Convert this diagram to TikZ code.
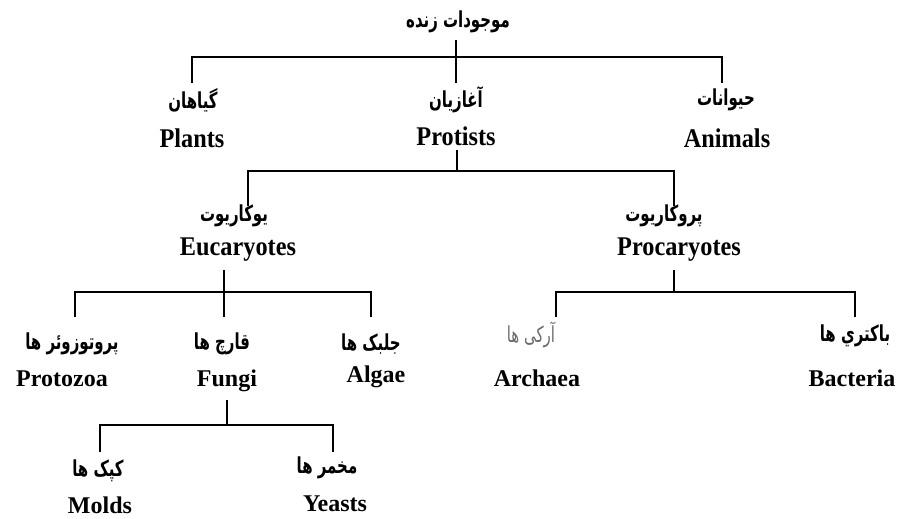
\documentclass[tikz,border=0pt]{standalone}
\usepackage{fontspec}
\TeXXeTstate=1
\newfontfamily\fa[Script=Arabic,FakeStretch=0.68]{DejaVu Sans}
\newfontfamily\enc[FakeStretch=0.9]{Liberation Serif}
\newfontfamily\enn{Liberation Serif}
\definecolor{archgray}{HTML}{6A6A6A}
\begin{document}
\begin{tikzpicture}[x=1pt,y=-1pt,
  fa/.style={font=\fa\bfseries\fontsize{22}{22}\selectfont, inner sep=0pt, anchor=center},
  faL/.style={font=\fa\fontsize{22}{22}\selectfont, inner sep=0pt, text=archgray},
  enA/.style={font=\enc\bfseries\fontsize{27}{27}\selectfont, inner sep=0pt},
  enB/.style={font=\enn\bfseries\fontsize{24}{24}\selectfont, inner sep=0pt},
  link/.style={line width=1.6pt, black}]
\useasboundingbox (0,0) rectangle (898,519);
% row 1
\node[fa] (root) at (458,22) {\beginR موجودات زنده\endR};
% row 2
\node[fa] (plantsfa) at (193,100) {\beginR گیاهان\endR};
\node[enA] (plants) at (192,138) {Plants};
\node[fa] (protfa) at (456,100) {\beginR آغازیان\endR};
\node[enA] (prot) at (456,136) {Protists};
\node[fa] (animfa) at (726,100) {\beginR حیوانات\endR};
\node[enA] (anim) at (727,138) {Animals};
% row 3
\node[fa] (eucfa) at (234,216) {\beginR یوکاریوت\endR};
\node[enA] (euc) at (238,250) {Eucaryotes};
\node[fa] (profa) at (664,216) {\beginR پروکاریوت\endR};
\node[enA] (pro) at (679,250) {Procaryotes};
% row 4
\node[fa] (protozfa) at (72,344) {\beginR پروتوزوئر ها\endR};
\node[enB] (protoz) at (62,379) {Protozoa};
\node[fa] (fungfa) at (222,344) {\beginR قارچ ها\endR};
\node[enB] (fung) at (227,381) {Fungi};
\node[fa] (algfa) at (371,344) {\beginR جلبک ها\endR};
\node[enB] (alg) at (376,377) {Algae};
\node[faL] (archfa) at (531,335) {\beginR آرکی ها\endR};
\node[enB] (arch) at (537,378) {Archaea};
\node[fa] (bactfa) at (855,336) {\beginR باکتري ها\endR};
\node[enB] (bact) at (852,378) {Bacteria};
% row 5
\node[fa] (moldfa) at (98,471) {\beginR کپک ها\endR};
\node[enB] (mold) at (100,505) {Molds};
\node[fa] (yeastfa) at (327,468) {\beginR مخمر ها\endR};
\node[enB] (yeast) at (335,504) {Yeasts};
% junction coordinates
\coordinate (r0) at (456,40);
\coordinate (r1) at (456,57);
\coordinate (rL) at (192,57);
\coordinate (rR) at (722,57);
\coordinate (rLd) at (192,83);
\coordinate (rMd) at (456,83);
\coordinate (rRd) at (722,83);
\coordinate (p0) at (457,150);
\coordinate (p1) at (457,171);
\coordinate (pL) at (248,171);
\coordinate (pR) at (674,171);
\coordinate (pLd) at (248,206);
\coordinate (pRd) at (674,206);
\coordinate (e0) at (224,270);
\coordinate (e1) at (224,292);
\coordinate (eL) at (75,292);
\coordinate (eR) at (371,292);
\coordinate (eLd) at (75,317);
\coordinate (eMd) at (224,317);
\coordinate (eRd) at (371,317);
\coordinate (k0) at (674,270);
\coordinate (k1) at (674,292);
\coordinate (kL) at (556,292);
\coordinate (kR) at (855,292);
\coordinate (kLd) at (556,317);
\coordinate (kRd) at (855,317);
\coordinate (f0) at (227,400);
\coordinate (f1) at (227,425);
\coordinate (fL) at (100,425);
\coordinate (fR) at (333,425);
\coordinate (fLd) at (100,452);
\coordinate (fRd) at (333,452);
% connectors
\draw[link] (r0) -- (rMd);
\draw[link] (rLd) -- (rL) -- (rR) -- (rRd);
\draw[link] (p0) -- (p1);
\draw[link] (pLd) -- (pL) -- (pR) -- (pRd);
\draw[link] (e0) -- (eMd);
\draw[link] (eLd) -- (eL) -- (eR) -- (eRd);
\draw[link] (k0) -- (k1);
\draw[link] (kLd) -- (kL) -- (kR) -- (kRd);
\draw[link] (f0) -- (f1);
\draw[link] (fLd) -- (fL) -- (fR) -- (fRd);
\end{tikzpicture}
\end{document}
